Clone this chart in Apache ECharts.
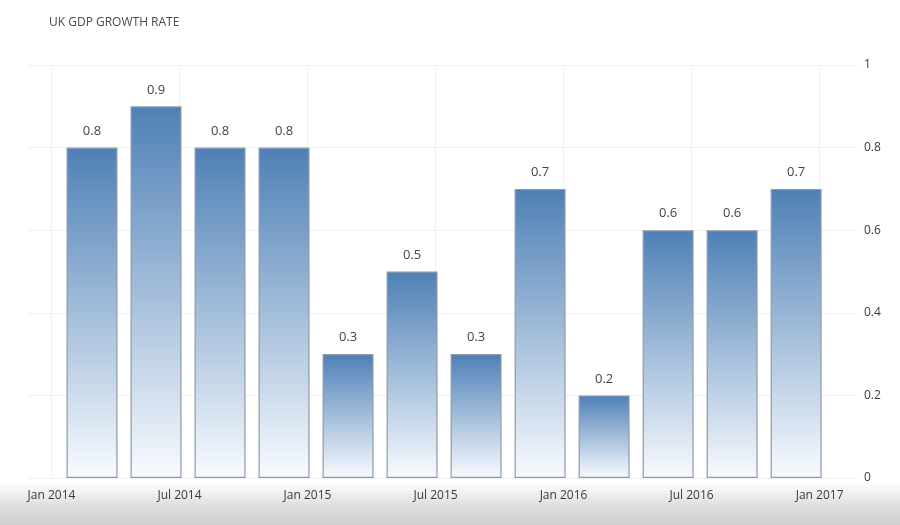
<!DOCTYPE html>
<html>
<head>
<meta charset="utf-8">
<script src="https://cdn.jsdelivr.net/npm/echarts@6/dist/echarts.min.js"></script>
<style>html,body{margin:0;padding:0;background:#fff;}#c{width:900px;height:525px;}</style>
</head>
<body>
<div id="c"></div>
<script>
var title = 'UK GDP GROWTH RATE';
var quarters = ['2014 Q1','2014 Q2','2014 Q3','2014 Q4','2015 Q1','2015 Q2','2015 Q3','2015 Q4','2016 Q1','2016 Q2','2016 Q3','2016 Q4'];
var growth = [0.8, 0.9, 0.8, 0.8, 0.3, 0.5, 0.3, 0.7, 0.2, 0.6, 0.6, 0.7];
var tickLabels = ['Jan 2014','Jul 2014','Jan 2015','Jul 2015','Jan 2016','Jul 2016','Jan 2017'];
var yTicks = [0, 0.2, 0.4, 0.6, 0.8, 1];

// x axis in months since Jan 2014; each quarter's bar is drawn at its plotted date
var tickMonths = tickLabels.map(function (_, i) { return i * 6; });
var barData = quarters.map(function (q, i) { return [i * 3 + 1.9, growth[i]]; });

var chart = echarts.init(document.getElementById('c'));
chart.setOption({
  animation: false,
  backgroundColor: '#fff',
  title: {
    text: title, left: 44, top: 12,
    textStyle: { fontFamily: 'Open Sans', fontSize: 12, fontWeight: 'normal', color: '#4a4a4a' }
  },
  graphic: [{
    type: 'rect', silent: true, z: -10,
    shape: { x: 0, y: 482, width: 900, height: 43 },
    style: {
      fill: new echarts.graphic.LinearGradient(0, 0, 0, 1, [
        { offset: 0, color: 'rgba(255,255,255,1)' },
        { offset: 0.6, color: '#dcdcdc' },
        { offset: 1, color: '#cfcfcf' }
      ])
    }
  }],
  grid: { left: 28, right: 42, top: 65, bottom: 47 },
  xAxis: {
    type: 'value', min: -1.1, max: 37.8,
    axisLine: { show: false },
    axisTick: { show: false, customValues: tickMonths },
    axisLabel: {
      customValues: tickMonths, margin: 12,
      fontFamily: 'Open Sans', fontSize: 12, color: '#3a3a3a',
      formatter: function (v) { return tickLabels[Math.round(v / 6)]; }
    },
    splitLine: { show: true, lineStyle: { color: '#f0f0f0', width: 1 } }
  },
  yAxis: {
    type: 'value', position: 'right', min: 0, max: 1, interval: 0.2,
    axisLine: { show: false }, axisTick: { show: false },
    axisLabel: {
      margin: 6, fontFamily: 'Open Sans', fontSize: 12, color: '#3a3a3a',
      formatter: function (v) { return String(Math.round(v * 10) / 10); }
    },
    splitLine: { lineStyle: { color: '#efefef', width: 1 } }
  },
  series: [{
    type: 'bar',
    data: barData,
    barWidth: 51,
    itemStyle: {
      color: new echarts.graphic.LinearGradient(0, 0, 0, 1, [
        { offset: 0, color: '#4e80b6' },
        { offset: 1, color: '#f8fbfe' }
      ]),
      borderColor: '#8f9aa6', borderWidth: 1.2
    },
    label: {
      show: true, position: 'top', distance: 10,
      fontFamily: 'Open Sans', fontSize: 13, color: '#444',
      formatter: function (p) { return p.value[1].toFixed(1); }
    }
  }]
});
</script>
</body>
</html>
